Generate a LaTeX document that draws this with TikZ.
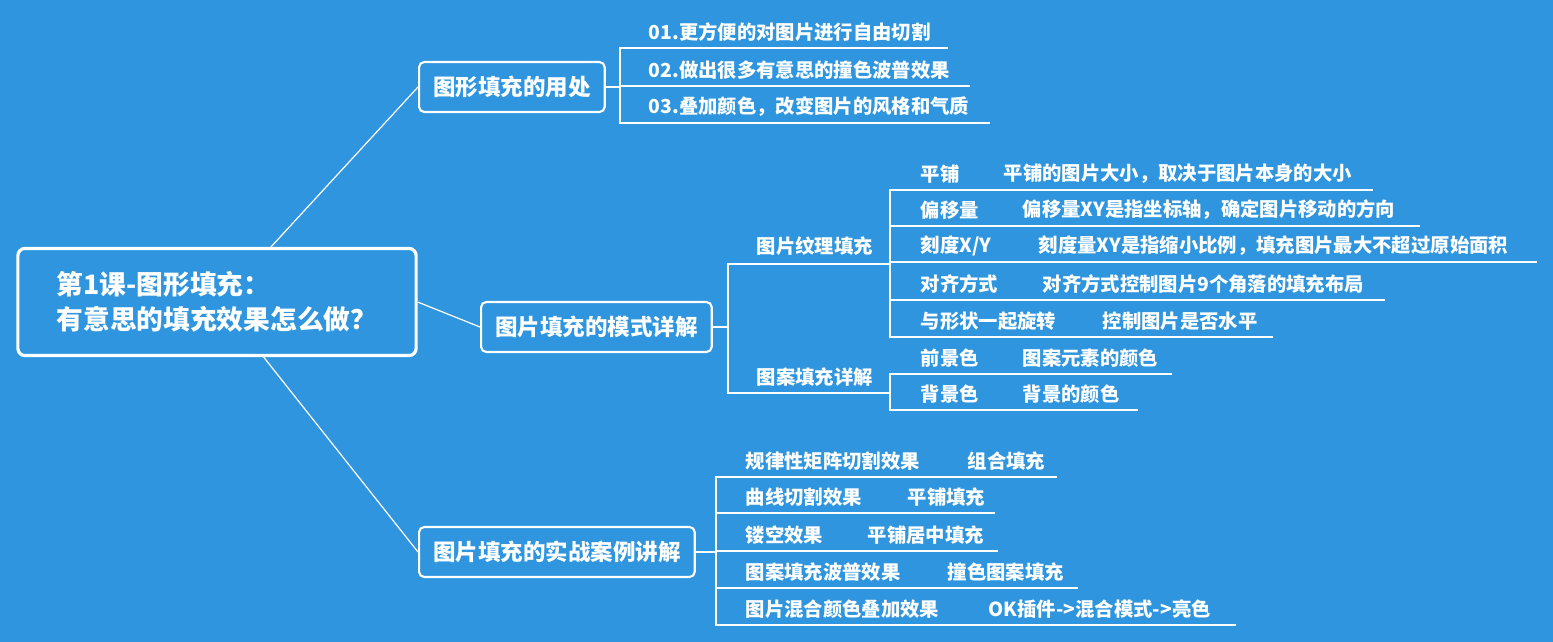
\documentclass[tikz,border=0pt]{standalone}
\usepackage{fontspec}
\setmainfont{Noto Sans CJK SC}
\definecolor{mapbg}{HTML}{2E95DE}
\tikzset{
  twig/.style={white, line width=0.35pt},
  rootbox/.style={draw=white, line width=0.9pt, rounded corners=2pt, minimum width=3.98cm, minimum height=1.07cm, text=white, font=\fontsize{7.6}{10}\selectfont\bfseries, align=left},
  topic/.style={draw=white, line width=0.6pt, rounded corners=1.5pt, minimum height=0.5cm, inner xsep=4pt, text=white, font=\fontsize{6.4}{8}\selectfont\bfseries},
  leaf/.style={anchor=west, inner sep=0pt, text=white, font=\fontsize{5.5}{7}\selectfont\bfseries},
}
\begin{document}
\begin{tikzpicture}[x=0.01cm, y=-0.01cm]
  \fill[mapbg] (0,0) rectangle (1553,642);

  % central topic and main branches
  \node[rootbox] (root) at (217,302) {第1课-图形填充：\\有意思的填充效果怎么做？};
  \node[topic, anchor=west] (use) at (418,87) {图形填充的用处};
  \node[topic, anchor=west] (mode) at (480,327) {图片填充的模式详解};
  \node[topic, anchor=west] (case) at (418,552) {图片填充的实战案例讲解};
  \coordinate (r1) at (270,248);
  \coordinate (r2) at (262,355);
  \draw[twig] (r1) -- (use.west);
  \draw[twig] (root.east) -- (mode.west);
  \draw[twig] (r2) -- (case.west);

  % uses
  \coordinate (j1) at (620,87);
  \draw[twig] (use.east) -- (j1);
  \foreach \txt/\y/\xe [count=\i] in {01.更方便的对图片进行自由切割/32/948, 02.做出很多有意思的撞色波普效果/70/970, 03.叠加颜色，改变图片的风格和气质/107/990}{
    \node[leaf] (u\i) at (648,\y) {\txt};
    \coordinate (uu\i) at (\xe,{\y+16});
    \draw[twig] (j1) |- (uu\i);
  }

  % modes
  \coordinate (j2) at (728,327);
  \draw[twig] (mode.east) -- (j2);
  \node[leaf] (tex) at (756,246) {图片纹理填充};
  \node[leaf] (pat) at (756,377) {图案填充详解};
  \coordinate (texu) at (890,264);
  \coordinate (patu) at (890,393);
  \draw[twig] (j2) |- (texu);
  \draw[twig] (j2) |- (patu);
  \foreach \lab/\det/\y/\xd/\xe [count=\i] in {平铺/平铺的图片大小，取决于图片本身的大小/174/1003/1373, 偏移量/偏移量XY是指坐标轴，确定图片移动的方向/210/1022/1420, {刻度X/Y}/刻度量XY是指缩小比例，填充图片最大不超过原始面积/246/1038/1537, 对齐方式/对齐方式控制图片9个角落的填充布局/284/1042/1385, 与形状一起旋转/控制图片是否水平/321/1102/1273}{
    \node[leaf] (w\i) at (920,\y) {\lab};
    \node[leaf] (wd\i) at (\xd,\y) {\det};
    \coordinate (wu\i) at (\xe,{\y+16});
    \draw[twig] (texu) |- (wu\i);
  }
  \foreach \lab/\det/\y/\xe [count=\i] in {前景色/图案元素的颜色/358/1172, 背景色/背景的颜色/394/1138}{
    \node[leaf] (p\i) at (920,\y) {\lab};
    \node[leaf] (pd\i) at (1022,\y) {\det};
    \coordinate (pu\i) at (\xe,{\y+16});
    \draw[twig] (patu) |- (pu\i);
  }

  % cases
  \coordinate (j3) at (716,552);
  \draw[twig] (case.east) -- (j3);
  \foreach \lab/\det/\y/\xd/\xe [count=\i] in {规律性矩阵切割效果/组合填充/461/967/1057, 曲线切割效果/平铺填充/497/907/995, 镂空效果/平铺居中填充/535/867/998, 图案填充波普效果/撞色图案填充/572/947/1078, 图片混合颜色叠加效果/OK插件->混合模式->亮色/609/988/1236}{
    \node[leaf] (c\i) at (745,\y) {\lab};
    \node[leaf] (cd\i) at (\xd,\y) {\det};
    \coordinate (cu\i) at (\xe,{\y+16});
    \draw[twig] (j3) |- (cu\i);
  }
\end{tikzpicture}
\end{document}
